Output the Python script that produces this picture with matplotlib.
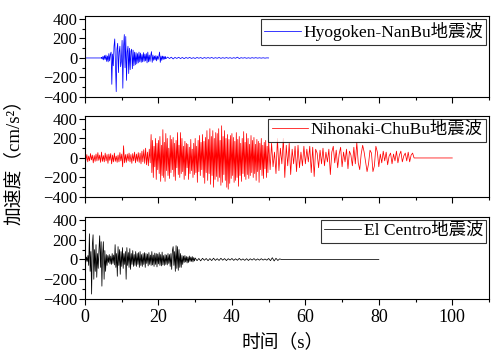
import numpy as np
import matplotlib
matplotlib.use("Agg")
import matplotlib.pyplot as plt
from matplotlib.ticker import MultipleLocator

plt.rcParams['font.family'] = ['Liberation Serif', 'Noto Sans CJK SC']

# Hyogoken-NanBu record (cm/s^2), pieces: (t_start, t_end, values)
hyo_quiet = [0, 0]
hyo_strong = [5, -12, 18, -20, 25, -15, 30, -35, 20, -40, 45, -30, 35,
              60, -270, 40, -80, 120,
              195, -60, -345, 90, 150,
              -150, 60, 120, -90, -40,
              180, -310, 110, 240, -100,
              220, -230, 60, 120, -160,
              100, -120, 70, 90, -110,
              80, -80, 60, -70, 55,
              -60, 45, -50, 60, -40,
              50, -45, 35, -40, 55,
              -35, 40, -30, 45, -50,
              60, -40, 30, -35, 25,
              65, -45, 30, -25, 20,
              -20, 25, -30, 20, -15,
              15, 60, -45, 20, -25,
              20, -15, 18, -12, 15]
hyo_tail = [-8, 9, -6, 8, -10, 6, -5, 7, -6, 5, -7, 5, -4, 6, -5, 3,
            -5, 5, -3, 4, -5, 4, -3, 4, -3, 5, -4, 3, -3, 5, -4, 3, -3, 4, -3,
            3, -4, 3, -3, 8, -6, 3, -2, 3, -3, 2, -3, 3, -2, 3, -2, 2, -2, 2,
            -2, 1, 0]

# Nihonaki-ChuBu record
nih_early = [10, -25, 35, -40, 20, -30, 45, -20, 30, -50, 25, -35,
             40, -30, 55, -25, 30, -45, 60, -35, 25, -40, 50, -30,
             35, -55, 40, -25, 45, -60, 30, -40, 50, -35, 20, -45,
             30, -40, 55, -30, 40, -90, 125, -50, 35, -45, 40, -30,
             50, -40, 35, -55, 45, -30, 60, -50, 40, -35, 55, -45,
             50, -60, 70, -40, 85, -55, 100, -70, 60, -80, 90, -50]
nih_strong = [240, -150, 180, -200, 120, -90, 200, -220, 150, -120,
              180, -160, 220, -240, 130, -180, 290, -200, 160, -240,
              250, -130, 200, -180, 100, -210, 230, -150, 190, -120,
              210, -190, 150, -230, 180, -100, 260, -170, 130, -200,
              260, -160, 200, -140, 120, -220, 170, -180, 150, -100,
              140, -220, 110, -160, 190, -130, 90, -200, 150, -170,
              200, -150, 120, -250, 180, -140, 230, -180, 160, -120,
              240, -200, 170, -260, 210, -150, 280, -230, 190, -160,
              300, -270, 220, -180, 280, -300, 200, -220, 260, -190,
              250, -240, 300, -200, 180, -280, 330, -250, 220, -170,
              280, -230, 200, -300, 240, -320, 190, -260, 230, -210,
              250, -180, 210, -250, 170, -230, 260, -200, 190, -290,
              220, -180, 150, -240, 200, -160, 270, -190, 160, -220,
              250, -170, 200, -210, 140, -180, 230, -150, 180, -200,
              210, -160, 140, -230, 190, -140, 170, -250, 150, -120,
              200, -180, 130, -210, 160, -110, 180, -200, 120, -150]
nih_late = [180, -120, 150, -90, 60, -160, 200, -130, 100, -60,
            200, -200, 130, -80, 150, -170, 90, -60, 120, -140,
            130, -100, 60, -80, 120, -60, 90, -40, 120, -150,
            110, -190, 90, 50, -100, 80, -60, 100, -80, 60,
            -40, 90, -170, 60, 120, -50, 80, -100, 40, 110,
            -90, 60, -40, 90, -110, 70, 30, -80, 110, -60,
            160, -50, -120, 40, 130, 60, -40, -140, -60, 80,
            50, -140, -80, 120, 60, -90, 40, -50, 70, -30,
            60, -70, 20, 50, -60, 40, -30, 70, -50, 30,
            70, -40, 20, 50, -30, 60, -40, 30, 50, 0]
nih_quiet = [0, 0]

# El Centro record
elc_strong = [10, -30, 25, -20, 40,
              -60, 260, -120, 80, -350,
              150, 250, -200, 100, -120,
              150, -180, 60, -90, 100,
              240, -80, 180, -270, 60,
              180, -200, 90, -120, 50,
              -60, 40, -30, 50, -45,
              35, -50, 60, -40, 45,
              -55, 150, -80, 60, -170,
              130, -60, 100, -150, 80,
              -70, 120, -90, 60, -50,
              80, -200, 120, -60, 70,
              -80, 110, -100, 60, -50,
              90, -70, 50, -60, 80,
              -70, 60, -50, 70, -80,
              80, -60, 50, -70, 60,
              -50, 70, -80, 60, -40,
              55, -65, 70, -50, 45,
              -60, 80, -55, 45, -70,
              65, -50, 60, -75, 55,
              -45, 70, -60, 50, -65,
              75, -55, 40, -60, 50,
              -50, 45, -55, 60, -40,
              50, -70, 60, -100, 90,
              130, -60, 80, -120, 140,
              -90, 130, -110, 100, -80,
              60, -80, 40, -50, 35,
              -30, 40, -25, 30, -35,
              25, -30, 35, -20, 25,
              -20, 30, -25, 20, -15]
elc_tail = [15, -12, 10, -14, 12, -8, 10, -12, 9, -11, 13, -9, 8, -10, 12, -7,
            9, -11, 8, -6, 10, -9, 7, -8, 11, -7, 6, -9, 8, -10, 7, -6, 9, -8,
            6, -7, 8, -6, 5, -7, 10, -12, 18, -15, 12, -10, 6, 0]
elc_quiet = [0, 0]

records = [
    ("Hyogoken-NanBu地震波", "#0000ff",
     [(0, 4.5, hyo_quiet), (4.5, 21.9, hyo_strong), (22, 50, hyo_tail)]),
    ("Nihonaki-ChuBu地震波", "#ff0000",
     [(0, 17.75, nih_early), (18, 49.8, nih_strong), (50, 89.6, nih_late), (90, 100, nih_quiet)]),
    ("El Centro地震波", "black",
     [(0, 29.8, elc_strong), (30, 53.5, elc_tail), (54, 80, elc_quiet)]),
]


def join_pieces(pieces):
    ts, vs = [], []
    for t0, t1, vals in pieces:
        ts.append(np.linspace(t0, t1, len(vals)))
        vs.append(np.asarray(vals, dtype=float))
    return np.concatenate(ts), np.concatenate(vs)


fig = plt.figure(figsize=(4.93, 3.54), dpi=100)
W, H = 493, 354
boxes = [(16, 97), (116, 197), (217, 299)]
axes = []
for (top, bot), (name, color, pieces) in zip(boxes, records):
    ax = fig.add_axes([85 / W, 1 - bot / H, 404 / W, (bot - top) / H])
    t, a = join_pieces(pieces)
    ax.plot(t, a, color=color, linewidth=0.55, label=name)
    ax.set_xlim(0, 110)
    ax.set_ylim(-400, 430)
    ax.yaxis.set_major_locator(MultipleLocator(200))
    ax.yaxis.set_minor_locator(MultipleLocator(100))
    ax.xaxis.set_major_locator(MultipleLocator(20))
    ax.xaxis.set_minor_locator(MultipleLocator(10))
    ax.tick_params(which="major", direction="out", length=4, width=0.8, labelsize=12, pad=1.5)
    ax.tick_params(which="minor", direction="out", length=2, width=0.8)
    ax.tick_params(axis="x", labelsize=13, pad=3)
    for sp in ax.spines.values():
        sp.set_linewidth(0.8)
    leg = ax.legend(loc="upper right", fontsize=12.5, frameon=True, fancybox=False,
                    handlelength=2.1, handletextpad=0.15, borderaxespad=0.15,
                    borderpad=0.2)
    leg.get_frame().set_edgecolor("black")
    leg.get_frame().set_linewidth(0.8)
    axes.append(ax)

for ax in axes[:-1]:
    ax.tick_params(axis="x", labelbottom=False)

fig.text(14 / W, 1 - 158 / H, "加速度（cm/s²）", rotation=90, ha="center", va="center",
         fontsize=13.5)
fig.text(283 / W, 1 - 342 / H, "时间（s）", ha="center", va="center", fontsize=13.5)

fig.savefig("out.png", dpi=100)
